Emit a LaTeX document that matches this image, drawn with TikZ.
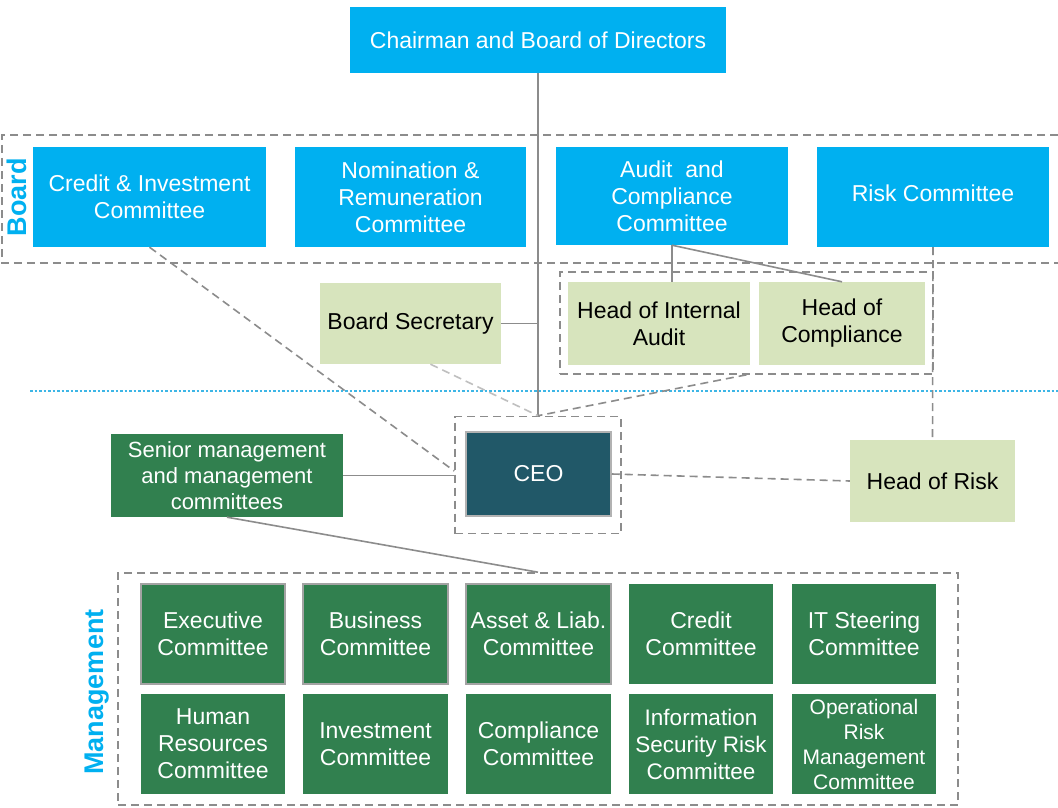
\documentclass[tikz,border=0pt]{standalone}
\usepackage{fontspec}
\setmainfont{Liberation Sans}
\usetikzlibrary{calc}
\definecolor{cblue}{HTML}{00B0F0}
\definecolor{lgreen}{HTML}{D7E4BD}
\definecolor{dgreen}{HTML}{31804F}
\definecolor{ceoc}{HTML}{215868}
\definecolor{lgray}{HTML}{8C8C8C}
\definecolor{llgray}{HTML}{BFBFBF}
\definecolor{dotblue}{HTML}{3DB6E6}
\tikzset{
 base/.style={rectangle, inner sep=0pt, align=center, font=\fontsize{23}{27}\selectfont},
 bluebox/.style={base, fill=cblue, text=white},
 lgbox/.style={base, fill=lgreen, text=black},
 dgbox/.style={base, fill=dgreen, text=white},
 dgboxb/.style={dgbox, draw=lgray!80, line width=1.5pt},
 conn/.style={draw=lgray, line width=1.6pt},
 dconn/.style={conn, dash pattern=on 8pt off 5pt},
 lconn/.style={draw=llgray, line width=1.6pt, dash pattern=on 8pt off 5pt},
 grp/.style={draw=lgray, line width=1.6pt, dash pattern=on 8pt off 5pt},
 sidelabel/.style={text=cblue, font=\fontsize{27}{31}\selectfont\bfseries, rotate=90},
}
\begin{document}
\begin{tikzpicture}[x=1pt,y=-1pt]
\useasboundingbox[fill=white] (0,0) rectangle (1058,808);
% board band
\draw[grp] (1058,135) -- (2,135) -- (2,263) -- (1058,263);
\node[sidelabel] (boardlbl) at (17,197) {Board};
% dotted separator
\draw[dotblue, line width=1.2pt, dash pattern=on 2.5pt off 2pt] (30,391) -- (1058,391);
% top
\node[bluebox, minimum width=376pt, minimum height=66pt] (chair) at (538,40) {Chairman and Board of Directors};
\node[bluebox, minimum width=233pt, minimum height=100pt] (cred) at (149.5,197) {Credit \& Investment\\Committee};
\node[bluebox, minimum width=231pt, minimum height=100pt] (nom) at (410.5,197) {Nomination \&\\Remuneration\\Committee};
\node[bluebox, minimum width=232pt, minimum height=98pt] (acc) at (672,196) {Audit\ \ and\\Compliance\\Committee};
\node[bluebox, minimum width=232pt, minimum height=100pt] (rc) at (933,197) {};
\node[base, text=white] (rctext) at (933,193) {Risk Committee};
% heads
\node[lgbox, minimum width=181pt, minimum height=81pt] (bsec) at (410.5,323.5) {Board Secretary};
\node[grp, rectangle, minimum width=373pt, minimum height=102pt, inner sep=0pt] (hgrp) at (746.5,323) {};
\node[lgbox, minimum width=182pt, minimum height=83pt] (hia) at (659,323.5) {Head of Internal\\Audit};
\node[lgbox, minimum width=166pt, minimum height=83pt] (hoc) at (842,323.5) {Head of\\Compliance};
% CEO row
\node[grp, rectangle, minimum width=166pt, minimum height=117pt, inner sep=0pt] (ceogrp) at (538,475) {};
\node[base, fill=ceoc, draw=gray!60, line width=1.5pt, text=white, minimum width=145pt, minimum height=84pt] (ceo) at (538.5,474) {CEO};
\node[dgbox, minimum width=232pt, minimum height=83pt, font=\fontsize{22}{26}\selectfont] (senior) at (227,475.5) {Senior management\\and management\\committees};
\node[lgbox, minimum width=165pt, minimum height=82pt] (hor) at (932.5,481) {Head of Risk};
% management
\node[grp, rectangle, minimum width=840pt, minimum height=232pt, inner sep=0pt] (mgmt) at (538,689) {};
\node[sidelabel] (mgmtlbl) at (97,692) {Management};
\node[dgboxb, minimum width=144pt, minimum height=100pt] (exec) at (213,634) {Executive\\Committee};
\node[dgboxb, minimum width=145pt, minimum height=100pt] (bus) at (375.5,634) {Business\\Committee};
\node[dgboxb, minimum width=145pt, minimum height=100pt] (alco) at (538.5,634) {Asset \& Liab.\\Committee};
\node[dgbox, minimum width=144pt, minimum height=100pt] (credc) at (701,634) {Credit\\Committee};
\node[dgbox, minimum width=144pt, minimum height=100pt] (itc) at (864,634) {IT Steering\\Committee};
\node[dgbox, minimum width=144pt, minimum height=100pt] (hrc) at (213,744) {Human\\Resources\\Committee};
\node[dgbox, minimum width=145pt, minimum height=100pt] (invc) at (375.5,744) {Investment\\Committee};
\node[dgbox, minimum width=145pt, minimum height=100pt] (compc) at (538.5,744) {Compliance\\Committee};
\node[dgbox, minimum width=144pt, minimum height=100pt, font=\fontsize{22.5}{27}\selectfont] (isrc) at (701,744) {Information\\Security Risk\\Committee};
\node[dgbox, minimum width=144pt, minimum height=100pt, font=\fontsize{21}{25}\selectfont] (orm) at (864,744) {Operational\\Risk\\Management\\Committee};
% connectors
\draw[conn] (chair.south) -- (ceogrp.north);
\draw[conn] (bsec.east) -- (bsec.east -| chair.south);
\draw[conn] (acc.south) -- (acc.south |- hia.north);
\draw[conn] (acc.south) -- (hoc.north);
\draw[dconn] (rc.south) -- (hor.north);
\draw[dconn] (cred.south) -- ($(ceogrp.west)+(0,-4)$);
\draw[lconn] ($(bsec.south)+(20,0)$) -- (ceogrp.north);
\draw[dconn] (hgrp.south) -- (ceogrp.north);
\draw[dconn] (ceo.east) -- (hor.west);
\draw[conn] (senior.east) -- (senior.east -| ceogrp.west);
\draw[conn] (senior.south) -- (mgmt.north);
\end{tikzpicture}
\end{document}
